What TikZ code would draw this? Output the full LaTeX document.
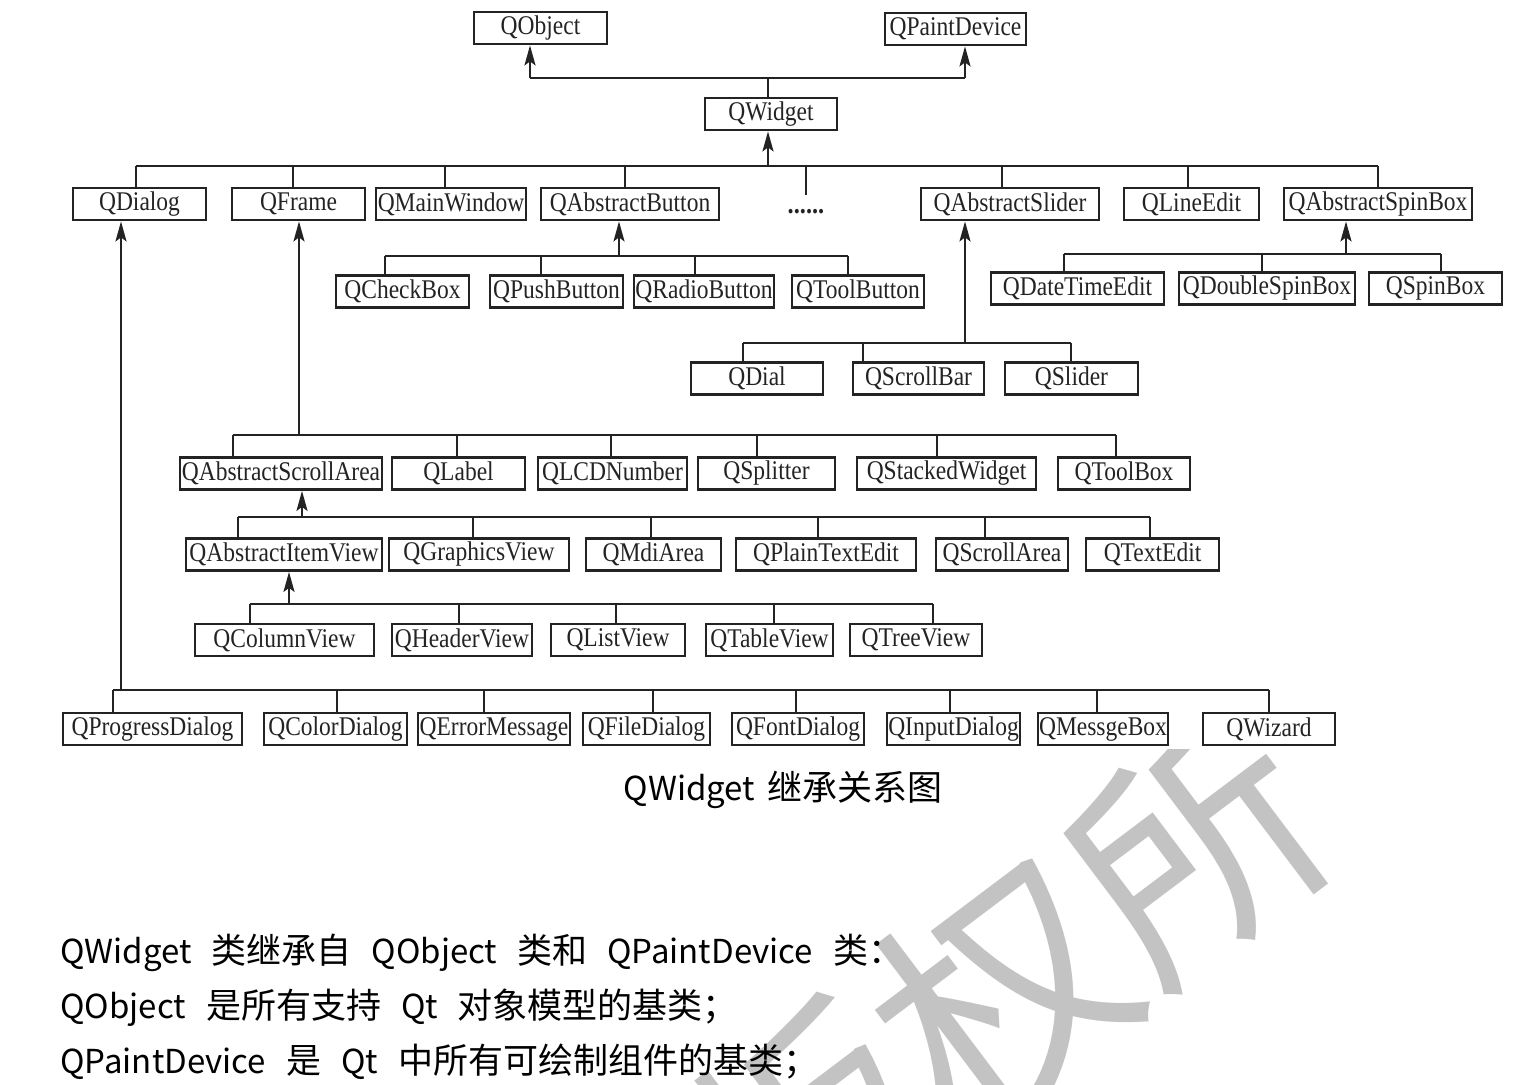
\documentclass[tikz,border=0pt]{standalone}
\usepackage{fontspec}
\newfontfamily\boxfont[FakeStretch=0.87]{Liberation Serif}
\newfontfamily\cjk{Noto Sans CJK SC}
\usetikzlibrary{arrows.meta}
\definecolor{ink}{RGB}{35,35,35}
\definecolor{wm}{RGB}{195,195,195}
\tikzset{
 box/.style={draw=ink, line width=1.4pt, minimum height=16pt, inner sep=0pt, text=ink, font=\boxfont\fontsize{13.5}{13.5}\selectfont},
 conn/.style={draw=ink, line width=1.1pt},
 arr/.style={conn, -{Stealth[length=10pt,width=5.5pt,inset=2pt]}},
 para/.style={anchor=west, inner sep=0pt, text=black, font=\cjk\fontsize{16.5}{16.5}\selectfont},
}
\newcommand\mybox[5]{\node[box, minimum width=#4*0.5pt-1pt] (#1) at (#2,#3) {#5};}
\newcommand\wsp{\hspace{10pt}}
\newcommand\zh[1]{{\fontsize{17.5}{17.5}\selectfont #1}}
\begin{document}
\begin{tikzpicture}[x=0.5pt,y=-0.5pt]
\useasboundingbox (0,0) rectangle (1536,1085);
% watermark
\begin{scope}
\clip (0,749) rectangle (1536,1085);
\node[text=wm, rotate=37, font=\cjk\fontsize{122}{122}\selectfont, inner sep=0pt] (wmark) at (1000,992) {版权所};
\end{scope}
% row 0/1
\mybox{qobject}{540.5}{28}{135}{QObject}
\mybox{qpaint}{955.5}{29}{143}{QPaintDevice}
\mybox{qwidget}{771}{114}{134}{QWidget}
% row 2
\mybox{qdialog}{139.5}{204}{135}{QDialog}
\mybox{qframe}{298.5}{204}{135}{QFrame}
\mybox{qmainwindow}{451}{204}{152}{QMainWindow}
\mybox{qabsbutton}{630}{204}{180}{QAbstractButton}
\node[inner sep=0pt, anchor=base, text=ink, font=\boxfont\bfseries\fontsize{14}{14}\selectfont] (dots) at (806,214) {......};
\mybox{qabsslider}{1010}{204}{180}{QAbstractSlider}
\mybox{qlineedit}{1191.5}{204}{137}{QLineEdit}
\mybox{qabsspin}{1378}{204}{190}{QAbstractSpinBox}
% button children
\mybox{qcheckbox}{402.5}{291.5}{135}{QCheckBox}
\mybox{qpushbutton}{556.5}{291.5}{135}{QPushButton}
\mybox{qradiobutton}{704}{291.5}{142}{QRadioButton}
\mybox{qtoolbutton}{858}{291.5}{134}{QToolButton}
% spin children
\mybox{qdatetimeedit}{1077.5}{288.5}{175}{QDateTimeEdit}
\mybox{qdoublespin}{1267}{288.5}{178}{QDoubleSpinBox}
\mybox{qspinbox}{1435.5}{288.5}{135}{QSpinBox}
% slider children
\mybox{qdial}{757}{378.5}{134}{QDial}
\mybox{qscrollbar}{918.5}{378.5}{133}{QScrollBar}
\mybox{qslider}{1071.5}{378.5}{135}{QSlider}
% frame children
\mybox{qabsscroll}{281}{473.5}{204}{QAbstractScrollArea}
\mybox{qlabel}{458.5}{473.5}{135}{QLabel}
\mybox{qlcd}{612.5}{473.5}{151}{QLCDNumber}
\mybox{qsplitter}{766.5}{473.5}{139}{QSplitter}
\mybox{qstacked}{946.5}{473.5}{181}{QStackedWidget}
\mybox{qtoolbox}{1124}{473.5}{134}{QToolBox}
% scroll area children
\mybox{qabsitem}{284}{554.5}{198}{QAbstractItemView}
\mybox{qgraphics}{479}{554.5}{182}{QGraphicsView}
\mybox{qmdi}{653.5}{554.5}{137}{QMdiArea}
\mybox{qplain}{826}{554.5}{182}{QPlainTextEdit}
\mybox{qscrollarea}{1002}{554.5}{134}{QScrollArea}
\mybox{qtextedit}{1152.5}{554.5}{135}{QTextEdit}
% item view children
\mybox{qcolumn}{284.5}{640}{181}{QColumnView}
\mybox{qheader}{462}{640}{142}{QHeaderView}
\mybox{qlist}{618}{640}{136}{QListView}
\mybox{qtable}{769.5}{640}{129}{QTableView}
\mybox{qtree}{916}{640}{134}{QTreeView}
% dialog children
\mybox{qprogress}{152.5}{729}{181}{QProgressDialog}
\mybox{qcolor}{335.5}{729}{145}{QColorDialog}
\mybox{qerror}{494}{729}{154}{QErrorMessage}
\mybox{qfile}{646.5}{729}{129}{QFileDialog}
\mybox{qfont}{798}{729}{134}{QFontDialog}
\mybox{qinput}{953.5}{729}{135}{QInputDialog}
\mybox{qmessge}{1103}{729}{132}{QMessgeBox}
\mybox{qwizard}{1269}{729}{134}{QWizard}

% QWidget -> QObject, QPaintDevice
\draw[conn] (qwidget.north -| 768,0) -- (768,78);
\draw[conn] (530,78) -- (965,78);
\draw[arr] (530,78) -- (qobject.south -| 530,0);
\draw[arr] (965,78) -- (qpaint.south -| 965,0);
% main bus
\draw[conn] (136,166) -- (1378,166);
\draw[arr] (768,166) -- (qwidget.south -| 768,0);
\foreach \n/\x in {qdialog/136, qframe/293, qmainwindow/445, qabsbutton/625, qabsslider/1002, qlineedit/1188, qabsspin/1378}
  \draw[conn] (\n.north -| \x,0) -- (\x,166);
\draw[conn] (dots.north |- 0,166) -- (dots.north |- 0,195);
% button bus
\draw[conn] (385,256) -- (848,256);
\draw[arr] (619,256) -- (qabsbutton.south -| 619,0);
\foreach \n/\x in {qcheckbox/385, qpushbutton/541, qradiobutton/695, qtoolbutton/848}
  \draw[conn] (\n.north -| \x,0) -- (\x,256);
% spin bus
\draw[conn] (1064,254) -- (1441,254);
\draw[arr] (1346,254) -- (qabsspin.south -| 1346,0);
\foreach \n/\x in {qdatetimeedit/1064, qdoublespin/1262, qspinbox/1441}
  \draw[conn] (\n.north -| \x,0) -- (\x,254);
% slider bus
\draw[conn] (743,343) -- (1071,343);
\draw[arr] (965,343) -- (qabsslider.south -| 965,0);
\foreach \n/\x in {qdial/743, qscrollbar/863, qslider/1071}
  \draw[conn] (\n.north -| \x,0) -- (\x,343);
% frame bus
\draw[conn] (233,435) -- (1116,435);
\draw[arr] (299,435) -- (qframe.south -| 299,0);
\foreach \n/\x in {qabsscroll/233, qlabel/457, qlcd/611, qsplitter/757, qstacked/937, qtoolbox/1116}
  \draw[conn] (\n.north -| \x,0) -- (\x,435);
% scroll area bus
\draw[conn] (238,517) -- (1150,517);
\draw[arr] (302,517) -- (qabsscroll.south -| 302,0);
\foreach \n/\x in {qabsitem/238, qgraphics/473, qmdi/651, qplain/818, qscrollarea/985, qtextedit/1150}
  \draw[conn] (\n.north -| \x,0) -- (\x,517);
% item view bus
\draw[conn] (250,604) -- (933,604);
\draw[arr] (289,604) -- (qabsitem.south -| 289,0);
\foreach \n/\x in {qcolumn/250, qheader/459, qlist/616, qtable/774, qtree/933}
  \draw[conn] (\n.north -| \x,0) -- (\x,604);
% dialog bus
\draw[conn] (113,690) -- (1269,690);
\draw[arr] (121,690) -- (qdialog.south -| 121,0);
\foreach \n/\x in {qprogress/113, qcolor/337, qerror/484, qfile/653, qfont/796, qinput/950, qmessge/1097, qwizard/1269}
  \draw[conn] (\n.north -| \x,0) -- (\x,690);

% caption and text
\node[inner sep=0pt, text=black, font=\cjk\fontsize{16.5}{16.5}\selectfont] (cap) at (783,790) {QWidget\hspace{6pt}\zh{继承关系图}};
\node[para] (t1) at (60,953) {QWidget\wsp \zh{类继承自}\wsp QObject\wsp \zh{类和}\wsp QPaintDevice\wsp \zh{类：}};
\node[para] (t2) at (60,1008) {QObject\wsp \zh{是所有支持}\wsp Qt\wsp \zh{对象模型的基类；}};
\node[para] (t3) at (60,1062) {QPaintDevice\wsp \zh{是}\wsp Qt\wsp \zh{中所有可绘制组件的基类；}};
\end{tikzpicture}
\end{document}
